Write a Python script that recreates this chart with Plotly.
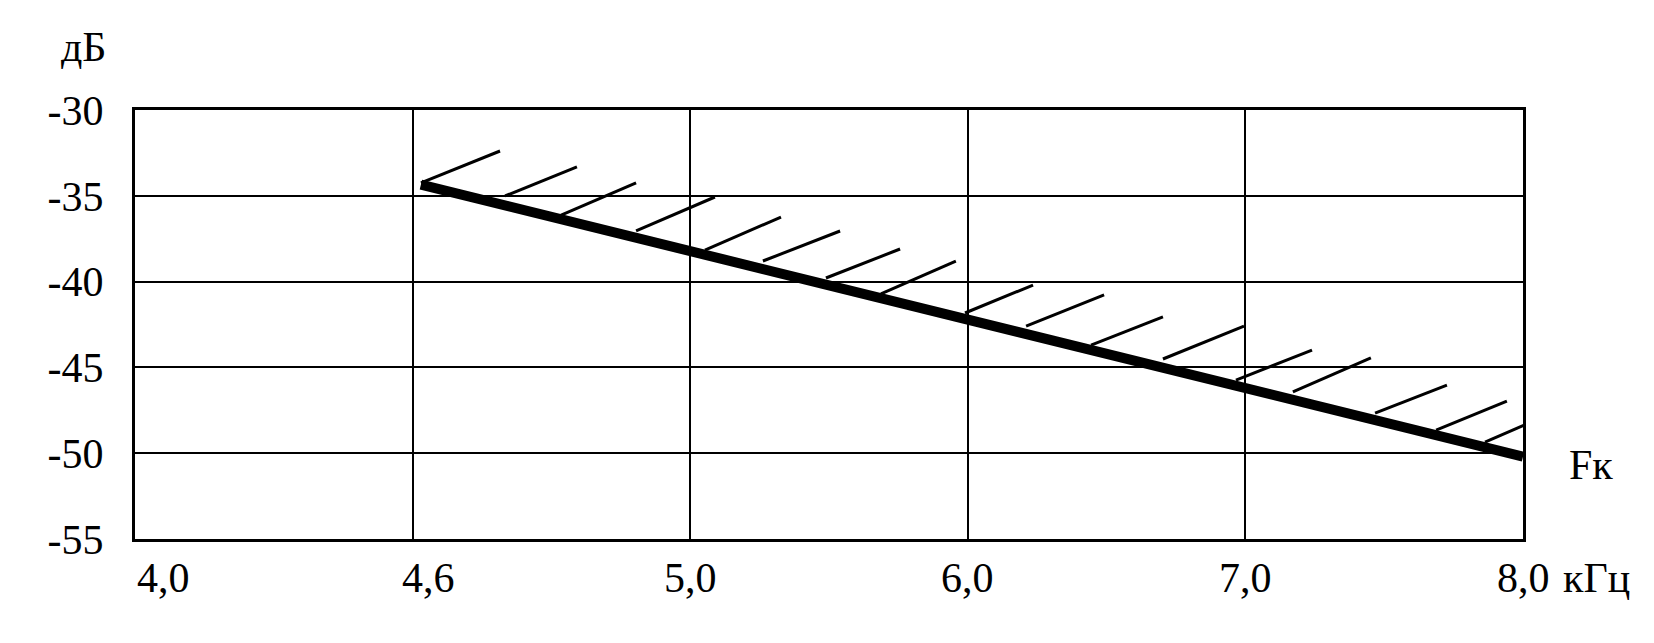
import plotly.graph_objects as go

# ---- data ----
x_tick_labels = ["4,0", "4,6", "5,0", "6,0", "7,0", "8,0"]
x_tick_pos = [0, 1, 2, 3, 4, 5]          # equally spaced grid positions
y_ticks = [-30, -35, -40, -45, -50, -55]
x_unit = "кГц"
y_unit = "дБ"
curve_label = "Fк"

# main boundary line (grid position, dB)
line_x = [1.03, 5.0]
line_y = [-34.35, -50.2]

# hatch strokes: start (on the line) and end (up-right)
hatch_x0 = [1.030, 1.333, 1.535, 1.805, 2.053, 2.262, 2.489, 2.687, 2.990,
            3.210, 3.444, 3.703, 3.966, 4.171, 4.467, 4.687, 4.863]
hatch_y0 = [-34.25, -35.01, -36.12, -37.05, -38.16, -38.80, -39.79, -40.72, -41.83,
            -42.59, -43.70, -44.51, -45.74, -46.43, -47.66, -48.65, -49.35]
hatch_x1 = [1.315, 1.592, 1.805, 2.089, 2.327, 2.540, 2.756, 2.957, 3.235,
            3.491, 3.703, 3.995, 4.240, 4.452, 4.726, 4.942, 5.022]
hatch_y1 = [-32.39, -33.32, -34.25, -35.07, -36.24, -37.05, -38.10, -38.80, -40.20,
            -40.78, -42.06, -42.59, -43.99, -44.45, -46.03, -46.96, -48.24]

FONT = "Liberation Serif, Times New Roman, serif"
FS = 42

hx, hy = [], []
for a, b, c, d in zip(hatch_x0, hatch_y0, hatch_x1, hatch_y1):
    hx += [a, c, None]
    hy += [b, d, None]

fig = go.Figure()
fig.add_trace(go.Scatter(x=hx, y=hy, mode="lines",
                         line=dict(color="black", width=3), hoverinfo="skip",
                         cliponaxis=False, showlegend=False))
fig.add_trace(go.Scatter(x=line_x, y=line_y, mode="lines",
                         line=dict(color="black", width=10), cliponaxis=False,
                         showlegend=False))

annotations = []
for i, (p, t) in enumerate(zip(x_tick_pos, x_tick_labels)):
    annotations.append(dict(x=p, y=0, xref="x", yref="paper", text=t,
                            showarrow=False, yanchor="top", yshift=-14,
                            xanchor="left" if i == 0 else "center",
                            xshift=(0 if i == 0 else (16 if i == 1 else 0)),
                            font=dict(family=FONT, size=FS, color="black")))
annotations.append(dict(x=x_tick_pos[-1], y=0, xref="x", yref="paper", text=x_unit,
                        showarrow=False, yanchor="top", yshift=-14, xanchor="left",
                        xshift=38, font=dict(family=FONT, size=FS, color="black")))
annotations.append(dict(x=0, y=1, xref="paper", yref="paper", text=y_unit,
                        showarrow=False, yanchor="bottom", yshift=38, xanchor="right",
                        xshift=-26, font=dict(family=FONT, size=FS, color="black")))
annotations.append(dict(x=1, y=line_y[-1], xref="paper", yref="y", text=curve_label,
                        showarrow=False, yanchor="middle", yshift=-8, xanchor="left",
                        xshift=44, font=dict(family=FONT, size=FS, color="black")))

fig.update_layout(
    width=1654, height=643,
    margin=dict(l=127, r=139, t=102, b=112),
    paper_bgcolor="white", plot_bgcolor="white",
    annotations=annotations,
    xaxis=dict(range=[0, 5], tickvals=x_tick_pos, showticklabels=False,
               showgrid=True, gridcolor="black", gridwidth=2,
               showline=True, linecolor="black", linewidth=3, mirror=True,
               zeroline=False, ticks=""),
    yaxis=dict(range=[-55, -30], tickvals=y_ticks,
               ticktext=[str(v) for v in y_ticks],
               showgrid=True, gridcolor="black", gridwidth=2,
               showline=True, linecolor="black", linewidth=3, mirror=True,
               zeroline=False, ticks="", ticklabelstandoff=20,
               tickfont=dict(family=FONT, size=FS, color="black")),
)

fig.write_html("out.html")
